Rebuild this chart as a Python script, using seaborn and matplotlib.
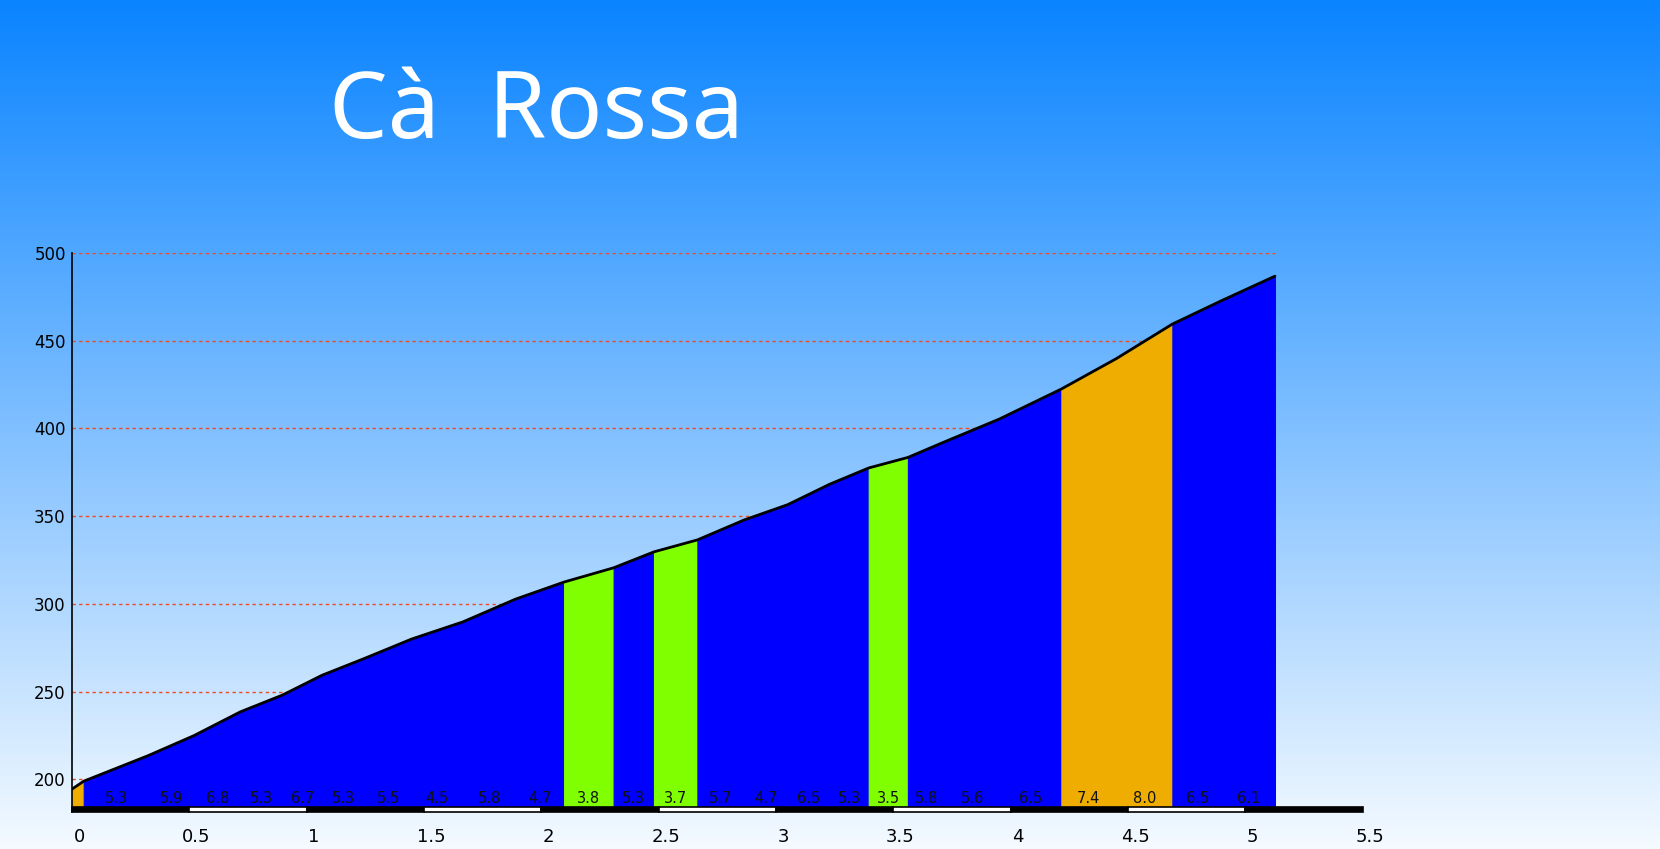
import numpy as np
import matplotlib
matplotlib.use('Agg')
import matplotlib.pyplot as plt
import matplotlib.transforms as mtransforms
from matplotlib.patches import Rectangle
import seaborn as sns

title = 'Cà  Rossa'

# segment boundaries (km) and elevation (m)
km = [0.0, 0.05, 0.325, 0.52, 0.717, 0.897, 1.066, 1.247, 1.447, 1.666, 1.889,
      2.097, 2.308, 2.48, 2.665, 2.863, 3.05, 3.228, 3.395, 3.562, 3.722,
      3.952, 4.216, 4.45, 4.689, 4.901, 5.126]
elev = [194.5, 199.0, 213.6, 225.0, 238.5, 248.1, 259.4, 269.0, 280.0, 289.8, 302.7,
        312.5, 320.6, 329.7, 336.5, 347.8, 356.6, 368.2, 377.5, 383.5, 392.6,
        405.4, 422.5, 439.8, 459.5, 473.0, 486.8]
# gradient (%) of each segment
grade = [9.0, 5.3, 5.9, 6.8, 5.3, 6.7, 5.3, 5.5, 4.5, 5.8, 4.7,
         3.8, 5.3, 3.7, 5.7, 4.7, 6.5, 5.3, 3.5, 5.8, 5.6,
         6.5, 7.4, 8.0, 6.5, 6.1]

y_ticks = [200, 250, 300, 350, 400, 450, 500]
x_ticks = [0, 0.5, 1, 1.5, 2, 2.5, 3, 3.5, 4, 4.5, 5, 5.5]
x_labels = ['0', '0.5', '1', '1.5', '2', '2.5', '3', '3.5', '4', '4.5', '5', '5.5']


def grade_color(g):
    if g < 4:
        return '#80FF00'
    if g >= 7:
        return '#EEAD00'
    return '#0000FF'


sns.set_style('white')
plt.rcParams['font.family'] = ['DejaVu Sans']

W, H = 1660, 849
fig = plt.figure(figsize=(W / 100, H / 100), dpi=100)

# background gradient
bg = fig.add_axes([0, 0, 1, 1], zorder=-5)
top = np.array([10, 132, 255]) / 255
bot = np.array([244, 250, 255]) / 255
t = np.linspace(0, 1, 256)[:, None]
grad = top[None, :] * (1 - t) + bot[None, :] * t
bg.imshow(grad[:, None, :], aspect='auto', extent=[0, 1, 0, 1])
bg.axis('off')

ax_top, ax_bot = 253, 812.3
ax_left, ax_right = 72, 1362.7
ax = fig.add_axes([ax_left / W, 1 - ax_bot / H, (ax_right - ax_left) / W, (ax_bot - ax_top) / H])
ax.set_facecolor('none')

ppu = 1.7548  # pixels per metre
ymin = 500 - (ax_bot - ax_top) / ppu
base = 500 - (807 - ax_top) / ppu
ax.set_xlim(0, 5.5)
ax.set_ylim(ymin, 500)

ax.hlines(y_ticks, 0, km[-1], colors='#F04A20', linestyles=(0, (2.4, 2.4)), lw=1, zorder=0)

for i in range(len(grade)):
    c = grade_color(grade[i])
    ax.fill_between([km[i], km[i + 1]], [base, base], [elev[i], elev[i + 1]],
                    facecolor=c, edgecolor=c, lw=0.8, zorder=2)
    if km[i + 1] - km[i] > 0.1:
        ax.text((km[i] + km[i + 1]) / 2, 500 - (798.7 - ax_top) / ppu, f'{grade[i]:.1f}',
                ha='center', va='center', fontsize=10.5, color='#111111', zorder=4)

sns.lineplot(x=km, y=elev, color='black', lw=2, sort=False, estimator=None, ax=ax, zorder=3)

# distance bar
for j in range(11):
    ax.add_patch(Rectangle((j * 0.5, ymin), 0.5, base - ymin,
                           facecolor='black' if j % 2 == 0 else 'white',
                           edgecolor='black', lw=1.2, zorder=3, clip_on=False))

for s in ['top', 'right', 'bottom']:
    ax.spines[s].set_visible(False)
ax.spines['left'].set_color('black')
ax.spines['left'].set_linewidth(1.2)
ax.spines['left'].set_zorder(5)

ax.set_yticks(y_ticks)
ax.set_xticks(x_ticks)
ax.set_xticklabels(x_labels)
ax.tick_params(axis='y', length=0, pad=4.5, labelsize=12, colors='black')
ax.tick_params(axis='x', length=0, pad=11, labelsize=13, colors='black')
off = mtransforms.ScaledTranslation(7 / 100, 0, fig.dpi_scale_trans)
for lab in ax.get_xticklabels():
    lab.set_transform(lab.get_transform() + off)
ax.set_xlabel('')
ax.set_ylabel('')

fig.text(329 / W, 1 - 138 / H, title, fontsize=67, color='white', ha='left', va='baseline',
         family=['Noto Sans', 'DejaVu Sans'])

fig.savefig('out.png', dpi=100)
